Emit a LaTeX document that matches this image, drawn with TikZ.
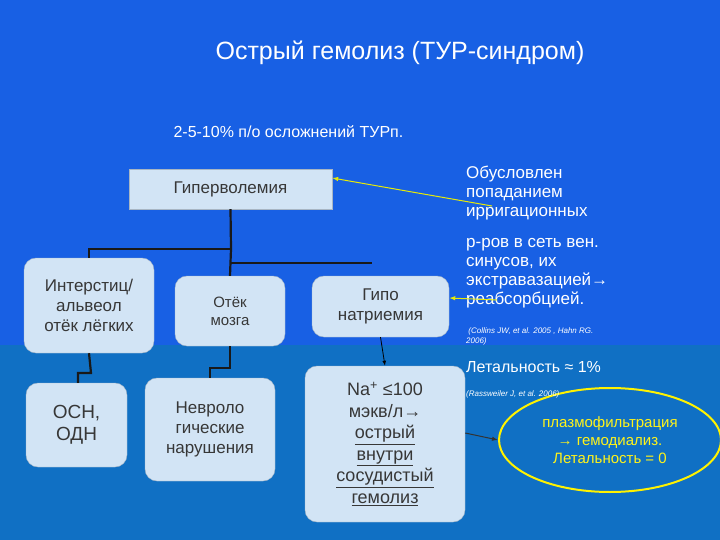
\documentclass[tikz,border=0pt]{standalone}
\usepackage{fontspec}
\setmainfont{Liberation Sans}
\usetikzlibrary{arrows.meta,shapes.geometric}
\definecolor{bgtop}{RGB}{24,96,228}
\definecolor{bgbot}{RGB}{16,112,196}
\definecolor{boxfill}{RGB}{210,228,245}
\definecolor{boxtext}{RGB}{55,55,55}
\begin{document}
\begin{tikzpicture}[x=1pt,y=-1pt,
  box/.style={draw=boxfill!80!black,fill=boxfill,rounded corners=12pt,text=boxtext,align=center,inner sep=0pt,font=\fontsize{17}{20}\selectfont},
  conn/.style={draw=black!90,line width=2.2pt},
  ytxt/.style={text=white,align=left,anchor=west,inner sep=0pt,font=\fontsize{17}{19}\selectfont},
  yarr/.style={draw=yellow!90!green,line width=1pt,-{Latex[length=6pt]}}]
\fill[bgtop] (0,0) rectangle (720,345);
\fill[bgbot] (0,345) rectangle (720,540);
\useasboundingbox (0,0) rectangle (720,540);
\node[text=white,font=\fontsize{25}{28}\selectfont] (title) at (400,53) {Острый гемолиз (ТУР-синдром)};
\node[text=white,anchor=west,font=\fontsize{16}{18}\selectfont] (sub) at (170,132) {2-5-10\% п/о осложнений ТУРп.};
\node[box,rounded corners=0pt,minimum width=203pt,minimum height=40pt] (hyp) at (230.5,189) {Гиперволемия};
\node[box,minimum width=130pt,minimum height=95pt] (int) at (89,305.5) {Интерстиц/\\альвеол\\отёк лёгких};
\node[box,minimum width=110pt,minimum height=70pt,font=\fontsize{15}{18}\selectfont] (brain) at (230,311) {Отёк\\мозга};
\node[box,minimum width=137pt,minimum height=61pt] (hypo) at (380.5,306.5) {Гипо\\натриемия};
\node[box,minimum width=101pt,minimum height=84pt,font=\fontsize{19}{22}\selectfont] (osn) at (76.5,425) {ОСН,\\ОДН};
\node[box,minimum width=130pt,minimum height=103pt] (neuro) at (210,429.5) {Невроло\\гические\\нарушения};
\node[box,minimum width=160pt,minimum height=156pt,font=\fontsize{18}{21.5}\selectfont] (na) at (385,444) {Na\textsuperscript{+} ≤100\\мэкв/л→\\\underline{острый}\\\underline{внутри}\\\underline{сосудистый}\\\underline{гемолиз}};
\coordinate (j1) at (231,249);
\coordinate (j2) at (231,263);
\coordinate (e2) at (372,263);
\draw[conn] (hyp.south) -- (j1) -- (brain.north);
\draw[conn] (j1) -| (int.north -| 89,0);
\draw[conn] (j2) -- (e2);
\draw[conn] (int.south) -- (91,373) -- (78,373) -- (osn.north -| 78,0);
\draw[conn] (brain.south) -- (230,368) -- (210,368) -- (neuro.north -| 210,0);
\draw[line width=0.8pt,-{Latex[length=5pt]}] (hypo.south) -- (na.north);
\node[draw=yellow,line width=2pt,ellipse,minimum width=222pt,minimum height=104pt,text=yellow!90!white,align=center,font=\fontsize{15}{18}\selectfont,inner sep=0pt] (ell) at (610,440) {плазмофильтрация\\→ гемодиализ.\\Летальность = 0};
\draw[line width=1pt,-{Latex[length=6pt]},draw=black!80] (na.east |- 0,433) -- (ell.west);
\node[ytxt] (t1) at (466,193) {Обусловлен\\попаданием\\ирригационных};
\node[ytxt] (t2) at (466,273) {р-ров в сеть вен.\\синусов, их\\экстравазацией→\\реабсорбцией.};
\node[ytxt,font=\itshape\fontsize{8}{10}\selectfont] (c1) at (466,336) {\ (Collins JW, et al. 2005 , Hahn RG.\\2006)};
\node[ytxt,font=\fontsize{16}{18}\selectfont] (let) at (466,367) {Летальность ≈ 1\%};
\node[ytxt,font=\itshape\fontsize{8}{10}\selectfont] (c2) at (466,394) {(Rassweiler J, et al. 2006)};
\coordinate (a1) at (492,206);
\coordinate (a2) at (497,300);
\draw[yarr] (a1) -- (hyp.east |- 0,178);
\draw[yarr] (a2) -- (hypo.east |- 0,298);
\end{tikzpicture}
\end{document}
